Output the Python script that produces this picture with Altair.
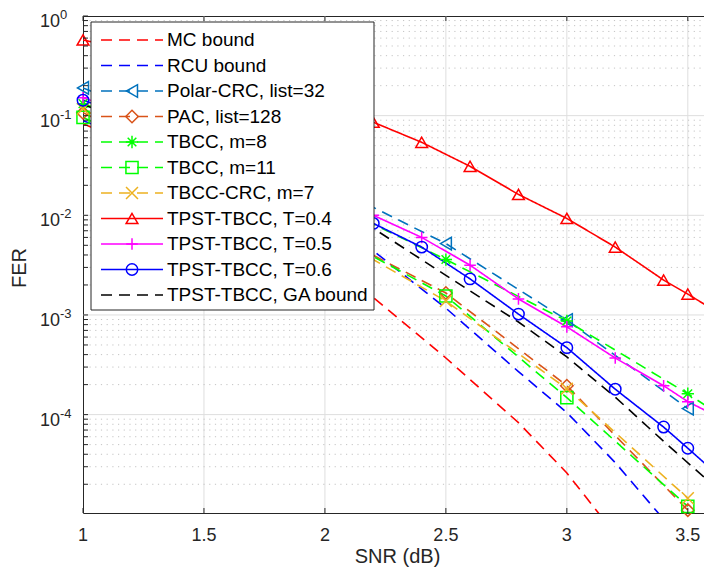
import altair as alt
import pandas as pd

# ---------------- data ----------------
names = ["MC bound", "RCU bound", "Polar-CRC, list=32", "PAC, list=128", "TBCC, m=8",
         "TBCC, m=11", "TBCC-CRC, m=7", "TPST-TBCC, T=0.4", "TPST-TBCC, T=0.5",
         "TPST-TBCC, T=0.6", "TPST-TBCC, GA bound"]
colors = ["#FF0000", "#0000FF", "#0072BD", "#D95319", "#00FF00", "#00FF00", "#EDB120",
          "#FF0000", "#FF00FF", "#0000FF", "#000000"]
styles = ["dash", "dash", "dash", "dash", "dash", "dash", "dash",
          "solid", "solid", "solid", "dash"]

snr_mc = [1.0, 1.5, 2.0, 2.2, 2.5, 2.8, 3.0, 3.2]
fer_mc = [0.083, 0.025, 0.004, 0.0015, 3.7e-4, 8.3e-5, 2.6e-5, 6.3e-6]
snr_rcu = [1.0, 1.5, 2.0, 2.2, 2.5, 2.8, 3.0, 3.2, 3.4]
fer_rcu = [0.089, 0.032, 0.01, 0.0044, 0.00117, 2.7e-4, 1.05e-4, 3.3e-5, 8.9e-6]
snr_half = [1.0, 1.5, 2.0, 2.5, 3.0, 3.5]
fer_polar = [0.19, 0.063, 0.021, 0.0052, 8.9e-4, 1.15e-4]
fer_pac = [0.107, 0.028, 0.0071, 0.00166, 1.95e-4, 1.1e-5]
snr_m8 = [1.0, 1.5, 2.0, 2.5, 3.0, 3.5, 4.0]
fer_m8 = [0.132, 0.05, 0.0141, 0.0036, 8.7e-4, 1.62e-4, 2.5e-5]
fer_m11 = [0.096, 0.026, 0.0071, 0.00155, 1.48e-4, 1.2e-5]
fer_crc = [0.117, 0.025, 0.0068, 0.00138, 1.82e-4, 1.45e-5]
snr_tpst = [1.0, 1.5, 2.0, 2.2, 2.4, 2.6, 2.8, 3.0, 3.2, 3.4, 3.5, 3.6]
fer_t04 = [0.575, 0.316, 0.135, 0.0859, 0.054, 0.031, 0.0162, 0.0093, 0.0048, 0.00224, 0.00162, 0.00115]
fer_t05 = [0.151, 0.063, 0.0166, 0.0100, 0.0060, 0.00316, 0.00145, 7.6e-4, 3.7e-4, 1.95e-4, 1.35e-4, 1.02e-4]
fer_t06 = [0.143, 0.056, 0.0166, 0.0083, 0.0048, 0.0023, 0.00102, 4.7e-4, 1.8e-4, 7.5e-5, 4.6e-5, 2.8e-5]
snr_ga = [1.0, 1.5, 2.0, 2.2, 2.5, 2.8, 3.0, 3.2, 3.4, 3.6]
fer_ga = [0.129, 0.050, 0.0141, 0.0074, 0.0025, 8.5e-4, 3.8e-4, 1.5e-4, 5.4e-5, 2.0e-5]

series_snr = [snr_mc, snr_rcu, snr_half, snr_half, snr_m8, snr_half, snr_half,
              snr_tpst, snr_tpst, snr_tpst, snr_ga]
series_fer = [fer_mc, fer_rcu, fer_polar, fer_pac, fer_m8, fer_m11, fer_crc,
              fer_t04, fer_t05, fer_t06, fer_ga]

AST = "M-1,0L1,0M0,-1L0,1M-0.7,-0.7L0.7,0.7M-0.7,0.7L0.7,-0.7"
XMK = "M-1,-1L1,1M-1,1L1,-1"
PLUS = "M-1,0L1,0M0,-1L0,1"
markers = [None, None, "triangle-left", "diamond", AST, "square", XMK,
           "triangle-up", PLUS, "circle", None]
msizes = [0, 0, 160, 130, 180, 100, 130, 160, 210, 120, 0]

x_ticks = [1.0, 1.5, 2.0, 2.5, 3.0, 3.5]
x_labels = ["1", "1.5", "2", "2.5", "3", "3.5"]
y_major = [1.0, 0.1, 0.01, 0.001, 0.0001]
y_exp = ["0", "-1", "-2", "-3", "-4"]
minor_mult = [2, 3, 4, 5, 6, 7, 8, 9]
minor_dec = [1e-5, 1e-4, 1e-3, 1e-2, 1e-1]
y_minor = [m * d for d in minor_dec for m in minor_mult]

# ---------------- tables ----------------
rows = []
for i, n in enumerate(names):
    for s, f in zip(series_snr[i], series_fer[i]):
        rows.append({"series": n, "idx": i, "snr": s, "fer": f, "style": styles[i],
                     "mk": markers[i] is not None})
df = pd.DataFrame(rows)

leg = pd.DataFrame({"series": names, "idx": list(range(len(names))), "style": styles,
                    "mk": [m is not None for m in markers],
                    "ly": [24 + 25.5 * i for i in range(len(names))]})

W, H = 629, 497
AX = "#262626"
FONT = "Liberation Sans"

xscale = alt.Scale(domain=[1, 3.6], nice=False, zero=False)
yscale = alt.Scale(type="log", domain=[1.03e-5, 1], nice=False)
cscale = alt.Scale(domain=names, range=colors)
dscale = alt.Scale(domain=["dash", "solid"], range=[[11, 7], [1, 0]])
mk_names = [n for n, m in zip(names, markers) if m is not None]
sscale = alt.Scale(domain=mk_names, range=[m for m in markers if m is not None])
zscale = alt.Scale(domain=mk_names, range=[z for z, m in zip(msizes, markers) if m is not None])

one = pd.DataFrame({"a": [0]})

# grids
xgrid = alt.Chart(pd.DataFrame({"v": x_ticks[1:]})).mark_rule(color="#dedede", strokeWidth=1).encode(
    x=alt.X("v:Q", scale=xscale, axis=None))
ymingrid = alt.Chart(pd.DataFrame({"v": y_minor})).transform_filter("datum.v > 1.03e-5").mark_rule(
    color="#c4c4c4", strokeWidth=1, strokeDash=[1.2, 4.5]).encode(
    y=alt.Y("v:Q", scale=yscale, axis=None))
ygrid = alt.Chart(pd.DataFrame({"v": y_major[1:]})).mark_rule(color="#dedede", strokeWidth=1).encode(
    y=alt.Y("v:Q", scale=yscale, axis=None))

# data
lines = alt.Chart(df).mark_line(strokeWidth=1.6, clip=True).encode(
    x=alt.X("snr:Q", scale=xscale, axis=None),
    y=alt.Y("fer:Q", scale=yscale, axis=None),
    color=alt.Color("series:N", scale=cscale, legend=None),
    strokeDash=alt.StrokeDash("style:N", scale=dscale, legend=None),
    detail="series:N",
    order="snr:Q")
points = alt.Chart(df).transform_filter("datum.mk && datum.snr <= 3.61").mark_point(
    filled=False, strokeWidth=1.5, opacity=1).encode(
    x=alt.X("snr:Q", scale=xscale, axis=None),
    y=alt.Y("fer:Q", scale=yscale, axis=None),
    color=alt.Color("series:N", scale=cscale, legend=None),
    shape=alt.Shape("series:N", scale=sscale, legend=None),
    size=alt.Size("series:N", scale=zscale, legend=None))

# legend
legbox = alt.Chart(one).mark_rect(fill="white", stroke=AX, strokeWidth=1).encode(
    x=alt.value(8), x2=alt.value(291), y=alt.value(6), y2=alt.value(294))
leglines = alt.Chart(leg).mark_rule(strokeWidth=1.6).encode(
    x=alt.value(18), x2=alt.value(80),
    y=alt.Y("ly:Q", scale=None, axis=None),
    color=alt.Color("series:N", scale=cscale, legend=None),
    strokeDash=alt.StrokeDash("style:N", scale=dscale, legend=None))
legpts = alt.Chart(leg).transform_filter("datum.mk").mark_point(filled=False, strokeWidth=1.5, opacity=1).encode(
    x=alt.value(49),
    y=alt.Y("ly:Q", scale=None, axis=None),
    color=alt.Color("series:N", scale=cscale, legend=None),
    shape=alt.Shape("series:N", scale=sscale, legend=None),
    size=alt.Size("series:N", scale=zscale, legend=None))
legtext = alt.Chart(leg).mark_text(align="left", baseline="middle", fontSize=19, font=FONT,
                                   color="#000000").encode(
    x=alt.value(84), y=alt.Y("ly:Q", scale=None, axis=None), text="series:N")

# ticks (inward)
ytk = pd.DataFrame({"v": y_major + y_minor})
ytl = alt.Chart(ytk).transform_filter("datum.v > 1.03e-5").mark_rule(color=AX, strokeWidth=1).encode(
    y=alt.Y("v:Q", scale=yscale, axis=None), x=alt.value(0), x2=alt.value(5))
ytr = alt.Chart(ytk).transform_filter("datum.v > 1.03e-5").mark_rule(color=AX, strokeWidth=1).encode(
    y=alt.Y("v:Q", scale=yscale, axis=None), x=alt.value(W - 5), x2=alt.value(W))
xtk = pd.DataFrame({"v": x_ticks, "t": x_labels})
xtb = alt.Chart(xtk).mark_rule(color=AX, strokeWidth=1).encode(
    x=alt.X("v:Q", scale=xscale, axis=None), y=alt.value(H - 5), y2=alt.value(H))
xtt = alt.Chart(xtk).mark_rule(color=AX, strokeWidth=1).encode(
    x=alt.X("v:Q", scale=xscale, axis=None), y=alt.value(0), y2=alt.value(5))

# tick labels and titles
xlab = alt.Chart(xtk).mark_text(align="center", baseline="top", fontSize=18, font=FONT,
                                color=AX).encode(
    x=alt.X("v:Q", scale=xscale, axis=None), y=alt.value(H + 13.5), text="t:N")
xtitle = alt.Chart(one).mark_text(align="center", baseline="top", fontSize=20, font=FONT,
                                  color=AX).encode(
    x=alt.value(W / 2), y=alt.value(H + 34), text=alt.value("SNR (dB)"))
ylab = pd.DataFrame({"v": y_major, "e": y_exp})
ylab10 = alt.Chart(ylab).mark_text(align="right", baseline="middle", fontSize=18, font=FONT,
                                   color=AX, dy=6).encode(
    y=alt.Y("v:Q", scale=yscale, axis=None), x=alt.value(-23), text=alt.value("10"))
ylabe = alt.Chart(ylab).mark_text(align="left", baseline="middle", fontSize=13, font=FONT,
                                  color=AX, dy=-1).encode(
    y=alt.Y("v:Q", scale=yscale, axis=None), x=alt.value(-23), text="e:N")
ytitle = alt.Chart(one).mark_text(fontSize=20, font=FONT, color=AX, angle=270,
                                  align="center", baseline="middle").encode(
    x=alt.value(-63), y=alt.value(252), text=alt.value("FER"))

chart = alt.layer(
    xgrid, ymingrid, ygrid, lines, points, legbox, leglines, legpts, legtext,
    ytl, ytr, xtb, xtt, xlab, xtitle, ylab10, ylabe, ytitle
).properties(
    width=W, height=H,
    autosize=alt.AutoSizeParams(type="none"),
    padding={"left": 75, "top": 8, "right": -8, "bottom": 54},
    background="white",
).configure_view(stroke=AX, strokeWidth=1)

chart.save("out.html", embed_options={"renderer": "svg", "actions": False})
